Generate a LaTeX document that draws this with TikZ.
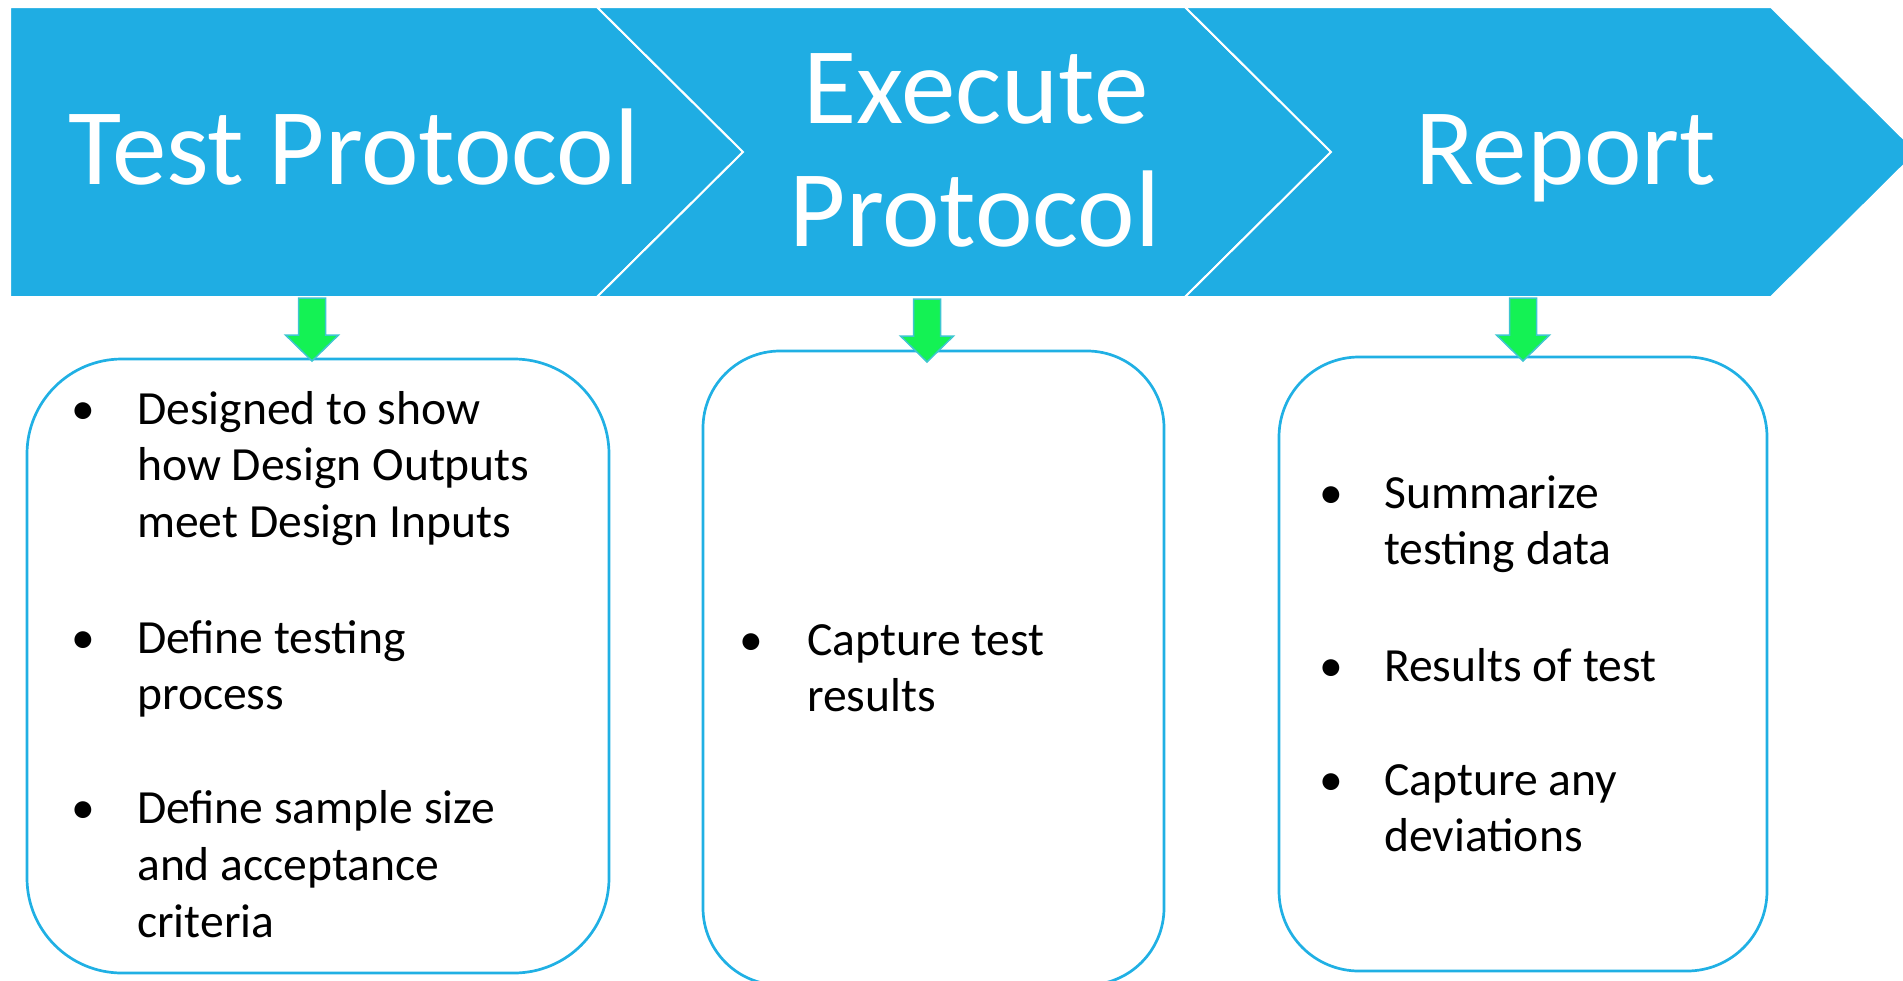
\documentclass[tikz,border=0pt]{standalone}
\usepackage{fontspec}
\setmainfont{Carlito}
\definecolor{bannerblue}{RGB}{31,173,227}
\definecolor{boxblue}{RGB}{32,176,228}
\definecolor{agreen}{RGB}{20,242,84}
\definecolor{aedge}{RGB}{62,198,208}
\begin{document}
\begin{tikzpicture}[x=1pt,y=-1pt,
  chev/.style={fill=bannerblue, draw=white, line width=2pt, line join=miter},
  head/.style={text=white, font=\fontsize{109}{123}\selectfont, inner sep=0pt, anchor=base},
  itembox/.style={draw=boxblue, line width=2.7pt, fill=none, inner sep=0pt},
  txt/.style={font=\fontsize{47.6}{56}\selectfont, inner sep=0pt, anchor=base west},
  bul/.style={font=\fontsize{47.6}{56}\selectfont, inner sep=0pt, anchor=base},
  garrow/.style={fill=agreen, draw=aedge, line width=1.5pt, line join=miter},
  downarr/.pic={\draw[garrow] (0,0) -- (26.5,-26) -- (13.5,-26) -- (13.5,-63) -- (-13.5,-63) -- (-13.5,-26) -- (-26.5,-26) -- cycle;}]
\useasboundingbox (0,0) rectangle (1903,980);
\begin{scope}
\clip (0,0) rectangle (1903,980);
% banner chevrons
\draw[chev] (10,7) -- (597,7) -- (743,152) -- (597,297) -- (10,297) -- cycle;
\draw[chev] (597,7) -- (1185,7) -- (1331,152) -- (1185,297) -- (597,297) -- (743,152) -- cycle;
\draw[chev] (1185,7) -- (1771,7) -- (1917,152) -- (1771,297) -- (1185,297) -- (1331,152) -- cycle;
\node[head] (h1) at (354,184) {Test Protocol};
\node[head] (h2a) at (976,123) {Execute};
\node[head] (h2b) at (975,246) {Protocol};
\node[head] (h3) at (1566,184) {Report};
% boxes
\node[itembox, minimum width=582pt, minimum height=614pt, rounded corners=95pt] (b1) at (318,666) {};
\node[itembox, minimum width=461pt, minimum height=634pt, rounded corners=77pt] (b2) at (933.5,668) {};
\node[itembox, minimum width=488pt, minimum height=614pt, rounded corners=80pt] (b3) at (1523,664) {};
% arrows
\coordinate (t1) at (312,361);
\coordinate (t2) at (927,362);
\coordinate (t3) at (1523,361);
\pic at (t1) {downarr};
\pic at (t2) {downarr};
\pic at (t3) {downarr};
% box 1 text
\node[bul] (p1) at (83,424) {•};
\node[txt] (l11) at (137,424) {Designed to show};
\node[txt] (l12) at (137,480) {how Design Outputs};
\node[txt] (l13) at (137,537) {meet Design Inputs};
\node[bul] (p2) at (83,653) {•};
\node[txt] (l21) at (137,653) {Define testing};
\node[txt] (l22) at (137,709) {process};
\node[bul] (p3) at (83,823) {•};
\node[txt] (l31) at (137,823) {Define sample size};
\node[txt] (l32) at (137,880) {and acceptance};
\node[txt] (l33) at (137,937) {criteria};
% box 2 text
\node[bul] (p4) at (751,655) {•};
\node[txt] (l41) at (807,655) {Capture test};
\node[txt] (l42) at (807,711) {results};
% box 3 text
\node[bul] (p5) at (1331,508) {•};
\node[txt] (l51) at (1384,508) {Summarize};
\node[txt] (l52) at (1384,564) {testing data};
\node[bul] (p6) at (1331,681) {•};
\node[txt] (l61) at (1384,681) {Results of test};
\node[bul] (p7) at (1331,795) {•};
\node[txt] (l71) at (1384,795) {Capture any};
\node[txt] (l72) at (1384,851) {deviations};
\end{scope}
\end{tikzpicture}
\end{document}
